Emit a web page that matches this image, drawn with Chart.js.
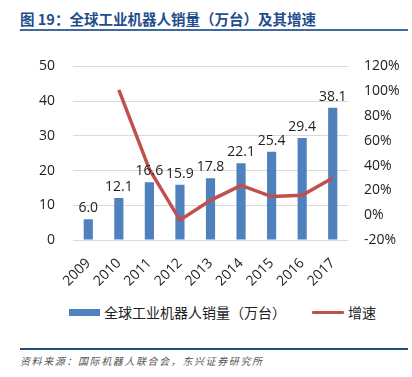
<!DOCTYPE html>
<html><head><meta charset="utf-8">
<script src="https://cdn.jsdelivr.net/npm/chart.js@4/dist/chart.umd.min.js"></script>
<style>
html,body{margin:0;padding:0;background:#fff;}
body{width:412px;height:377px;position:relative;overflow:hidden;font-family:"Noto Sans CJK SC","Noto Sans",sans-serif;}
#title{position:absolute;left:20px;top:8px;font-size:14.5px;font-weight:bold;color:#1F4E8C;white-space:nowrap;}
#tline{position:absolute;left:20px;top:29px;width:388px;height:2px;background:#3F6A9E;}
#wrap{position:absolute;left:0;top:40px;width:412px;height:255px;}
#legend{position:absolute;top:303px;left:0;width:412px;height:20px;font-size:14px;color:#222;}
.lb{position:absolute;left:69px;top:6px;width:31px;height:7px;background:#4F81BD;}
.lt1{position:absolute;left:104px;top:-1px;white-space:nowrap;}
.ll{position:absolute;left:312px;top:8px;width:32px;height:3px;background:#C0504D;border-radius:1px;}
.lt2{position:absolute;left:348px;top:-1px;white-space:nowrap;}
#bline{position:absolute;left:20px;top:348px;width:388px;height:1.5px;background:#1F4E79;}
#src{position:absolute;left:20px;top:353px;font-size:10px;font-style:italic;color:#555;letter-spacing:1.6px;white-space:nowrap;}
</style></head>
<body>
<div id="title">图 19：全球工业机器人销量（万台）及其增速</div>
<div id="tline"></div>
<div id="wrap"><canvas id="c"></canvas></div>
<div id="legend"><div class="lb"></div><div class="lt1">全球工业机器人销量（万台）</div><div class="ll"></div><div class="lt2">增速</div></div>
<div id="bline"></div>
<div id="src">资料来源：国际机器人联合会，东兴证券研究所</div>
<script>
const years = ['2009','2010','2011','2012','2013','2014','2015','2016','2017'];
const sales = [6.0, 12.1, 16.6, 15.9, 17.8, 22.1, 25.4, 29.4, 38.1];
const growth = [null, 101, 37, -4, 12, 24, 15, 16, 30];
const leftTicks = [0, 10, 20, 30, 40, 50];
const rightTicks = [-20, 0, 20, 40, 60, 80, 100, 120];

const labelPlugin = {
  id: 'barLabels',
  afterDatasetsDraw(chart) {
    const ctx = chart.ctx;
    const meta = chart.getDatasetMeta(1);
    ctx.save();
    ctx.font = '14px "Open Sans", "DejaVu Sans", sans-serif';
    ctx.fillStyle = '#222';
    ctx.textAlign = 'center';
    ctx.textBaseline = 'bottom';
    meta.data.forEach((bar, i) => {
      ctx.fillText(sales[i].toFixed(1), bar.x, bar.y - 4);
    });
    ctx.restore();
  }
};

new Chart(document.getElementById('c'), {
  data: {
    labels: years,
    datasets: [
      { type: 'line', label: '增速', data: growth, yAxisID: 'y1', borderColor: '#C0504D', backgroundColor: '#C0504D', borderWidth: 3.5, pointRadius: 0, tension: 0, order: 0 },
      { type: 'bar', label: '全球工业机器人销量（万台）', data: sales, yAxisID: 'y', backgroundColor: '#4F81BD', barPercentage: 0.6, categoryPercentage: 0.5, order: 1 }
    ]
  },
  plugins: [labelPlugin],
  options: {
    responsive: true, maintainAspectRatio: false, animation: false,
    layout: { padding: { left: 0, right: 0, top: 22, bottom: 0 } },
    plugins: { legend: { display: false }, tooltip: { enabled: false } },
    scales: {
      x: {
        grid: { display: false }, border: { display: false },
        afterFit(s){ s.height = 55; },
        ticks: { color: '#222', font: { size: 14, family: '"Open Sans", sans-serif' }, minRotation: 45, maxRotation: 45, padding: 7 }
      },
      y: {
        position: 'left', min: 0, max: 50,
        afterBuildTicks(s){ s.ticks = leftTicks.map(v => ({ value: v })); },
        afterFit(s){ s.width = 73; },
        grid: { color: '#D9D9D9', drawTicks: false, lineWidth: 1 }, border: { display: false },
        ticks: { color: '#222', font: { size: 14, family: '"Open Sans", sans-serif' }, padding: 18 }
      },
      y1: {
        position: 'right', min: -20, max: 120,
        afterBuildTicks(s){ s.ticks = rightTicks.map(v => ({ value: v })); },
        afterFit(s){ s.width = 64; },
        grid: { display: false, drawTicks: false }, border: { display: false },
        ticks: { color: '#222', font: { size: 14, family: '"Open Sans", sans-serif' }, padding: 16, callback: v => v + '%' }
      }
    }
  }
});
</script>
</body></html>
